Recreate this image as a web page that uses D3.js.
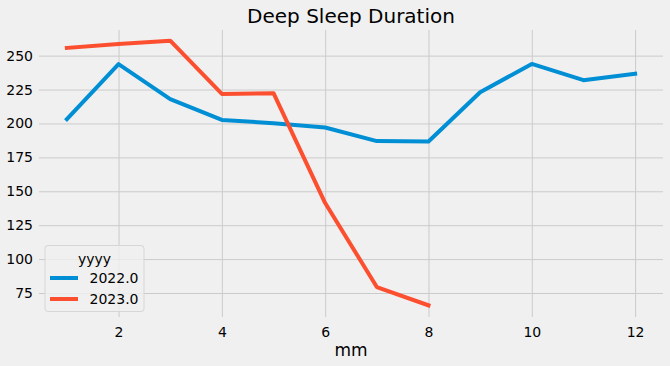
<!DOCTYPE html>
<html>
<head>
<meta charset="utf-8">
<script src="https://cdn.jsdelivr.net/npm/d3@7"></script>
<style>
  html, body { margin: 0; padding: 0; background: #f0f0f0; }
  svg { display: block; font-family: "DejaVu Sans", sans-serif; }
</style>
</head>
<body>
<svg id="chart" width="670" height="366"></svg>
<script>
const months = [1, 2, 3, 4, 5, 6, 7, 8, 9, 10, 11, 12];
const y2022 = [203.2, 243.7, 217.9, 202.6, 200.2, 197.0, 187.0, 186.7, 223.0, 243.9, 231.9, 236.7];
const months2023 = [1, 2, 3, 4, 5, 6, 7, 8];
const y2023 = [255.7, 258.6, 261.0, 221.8, 222.3, 141.3, 79.4, 65.9];
const seriesNames = ["2022.0", "2023.0"];
const colors = ["#008fd5", "#fc4f30"];
const xTicks = [2, 4, 6, 8, 10, 12];
const yTicks = [75, 100, 125, 150, 175, 200, 225, 250];
const title = "Deep Sleep Duration";
const xLabel = "mm";
const legendTitle = "yyyy";

const svg = d3.select("#chart");
const W = 670, H = 366;
const m = { left: 39, right: 7, top: 30, bottom: 49 };

svg.append("rect").attr("width", W).attr("height", H).attr("fill", "#f0f0f0");

const x = d3.scaleLinear().domain([0.46, 12.54]).range([m.left, W - m.right]);
const y = d3.scaleLinear().domain([57.3, 268.9]).range([H - m.bottom, m.top]);

// grid
const g = svg.append("g");
g.append("g")
  .attr("transform", `translate(0,${H - m.bottom})`)
  .call(d3.axisBottom(x).tickValues(xTicks).tickSize(-(H - m.top - m.bottom)).tickPadding(7).tickFormat(d3.format("d")))
  .call(s => s.select(".domain").remove())
  .call(s => s.selectAll("line").attr("stroke", "#cbcbcb").attr("stroke-width", 1))
  .call(s => s.selectAll("text").attr("fill", "#000").attr("font-size", 14).attr("font-family", "DejaVu Sans").attr("dy", "0.95em"));

g.append("g")
  .attr("transform", `translate(${m.left},0)`)
  .call(d3.axisLeft(y).tickValues(yTicks).tickSize(-(W - m.left - m.right)).tickPadding(6).tickFormat(d3.format("d")))
  .call(s => s.select(".domain").remove())
  .call(s => s.selectAll("line").attr("stroke", "#cbcbcb").attr("stroke-width", 1))
  .call(s => s.selectAll("text").attr("fill", "#000").attr("font-size", 14).attr("font-family", "DejaVu Sans"));

const line = d3.line().x(d => x(d[0])).y(d => y(d[1]));
const data = [
  d3.zip(months, y2022),
  d3.zip(months2023, y2023)
];
data.forEach((d, i) => {
  svg.append("path").datum(d).attr("d", line)
    .attr("fill", "none").attr("stroke", colors[i]).attr("stroke-width", 4)
    .attr("stroke-linejoin", "round").attr("stroke-linecap", "square");
});

svg.append("text").attr("x", (m.left + W - m.right) / 2).attr("y", 22.7)
  .attr("text-anchor", "middle").attr("font-size", 20).attr("fill", "#000").text(title);

svg.append("text").attr("x", (m.left + W - m.right) / 2).attr("y", 356)
  .attr("text-anchor", "middle").attr("font-size", 17).attr("fill", "#000").text(xLabel);

// legend
const lg = svg.append("g");
lg.append("rect").attr("x", 45).attr("y", 245.5).attr("width", 99).attr("height", 66).attr("rx", 3)
  .attr("fill", "#f0f0f0").attr("fill-opacity", 0.8).attr("stroke", "#d6d6d6").attr("stroke-width", 1);
lg.append("text").attr("x", 94.5).attr("y", 263.5).attr("text-anchor", "middle").attr("font-size", 14).attr("fill", "#000").text(legendTitle);
seriesNames.forEach((n, i) => {
  const yy = 278 + i * 21;
  lg.append("line").attr("x1", 50).attr("x2", 78).attr("y1", yy).attr("y2", yy).attr("stroke", colors[i]).attr("stroke-width", 4);
  lg.append("text").attr("x", 89.5).attr("y", yy + 5.3).attr("font-size", 14).attr("fill", "#000").text(n);
});
</script>
</body>
</html>
